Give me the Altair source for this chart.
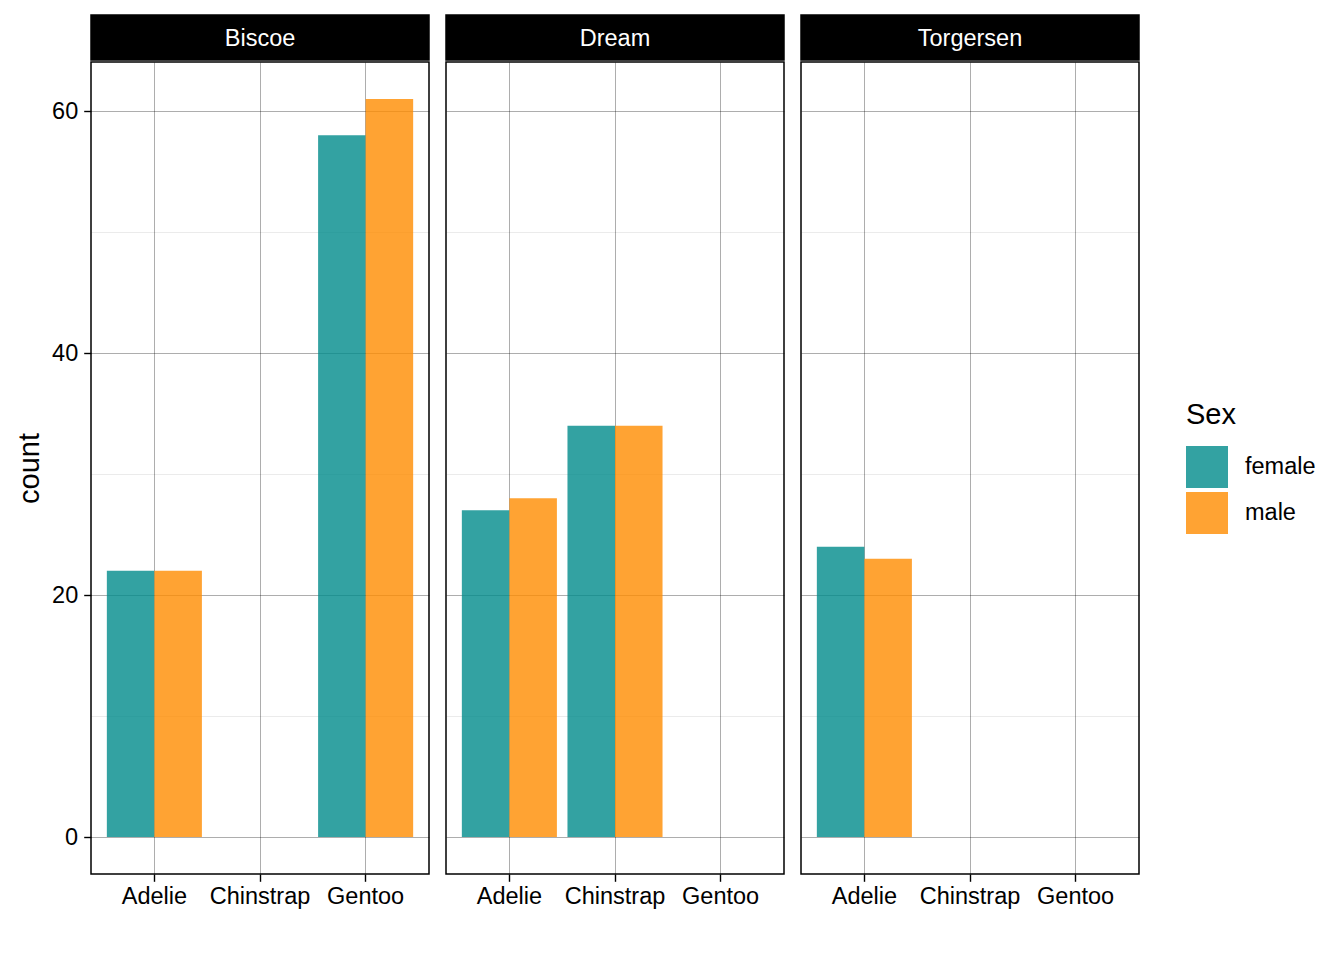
import altair as alt
import pandas as pd

# ---- data ----
islands = ["Biscoe", "Dream", "Torgersen"]
species_levels = ["Adelie", "Chinstrap", "Gentoo"]
sex_levels = ["female", "male"]

row_island = ["Biscoe", "Biscoe", "Biscoe", "Biscoe", "Dream", "Dream", "Dream", "Dream", "Torgersen", "Torgersen"]
row_species = ["Adelie", "Adelie", "Gentoo", "Gentoo", "Adelie", "Adelie", "Chinstrap", "Chinstrap", "Adelie", "Adelie"]
row_sex = ["female", "male", "female", "male", "female", "male", "female", "male", "female", "male"]
row_count = [22, 22, 58, 61, 27, 28, 34, 34, 24, 23]

y_ticks = [0, 10, 20, 30, 40, 50, 60]

df = pd.DataFrame({"island": row_island, "species": row_species, "sex": row_sex, "count": row_count})

FONT = "Liberation Sans"
PW, PH, SH = 338, 812, 45

major = "datum.value % 20 === 0"


def panel(isl, first):
    sub = df[df["island"] == isl]
    if first:
        yaxis = alt.Axis(
            values=y_ticks,
            labelExpr="datum.value % 20 === 0 ? datum.label : ''",
            tickOpacity={"condition": {"test": major, "value": 1}, "value": 0},
            gridOpacity={"condition": {"test": major, "value": 0.32}, "value": 0.08},
            gridColor="black",
            gridWidth=1,
            title="count",
            titleFontSize=29,
            titleFontWeight="normal",
            titleColor="black",
            titlePadding=7,
            labelFontSize=23.5,
            labelColor="black",
            labelPadding=6,
            tickSize=7.3,
            tickColor="black",
            tickWidth=1.4,
            domain=False,
        )
    else:
        yaxis = alt.Axis(
            values=y_ticks,
            labels=False,
            ticks=False,
            domain=False,
            title=None,
            gridOpacity={"condition": {"test": major, "value": 0.32}, "value": 0.08},
            gridColor="black",
            gridWidth=1,
        )
    xaxis = alt.Axis(
        title=None,
        grid=True,
        gridColor="black",
        gridOpacity=0.32,
        gridWidth=1,
        bandPosition=0.5,
        labelFontSize=23.5,
        labelColor="black",
        labelPadding=3,
        labelAngle=0,
        tickSize=7.3,
        tickColor="black",
        tickWidth=1.4,
        domain=False,
    )
    bars = alt.Chart(sub).mark_bar(opacity=0.8).encode(
        x=alt.X("species:N", scale=alt.Scale(domain=species_levels, paddingInner=0.1, paddingOuter=0.15), axis=xaxis),
        xOffset=alt.XOffset("sex:N", scale=alt.Scale(domain=sex_levels, paddingInner=0, paddingOuter=0)),
        y=alt.Y("count:Q", scale=alt.Scale(domain=[-3.05, 64.05], nice=False, zero=False), axis=yaxis),
        color=alt.Color(
            "sex:N",
            scale=alt.Scale(domain=sex_levels, range=["#008B8B", "#FF8C00"]),
            legend=alt.Legend(
                title="Sex",
                orient="none",
                legendX=1095,
                legendY=386,
                titleFontSize=29,
                titleFontWeight="normal",
                titleColor="black",
                titlePadding=16,
                labelFontSize=23.5,
                labelColor="black",
                labelOffset=17,
                symbolType="square",
                symbolSize=1764,
                symbolStrokeWidth=0,
                symbolOpacity=0.8,
                rowPadding=4,
            ),
        ),
    ).properties(width=PW, height=PH)

    strip_df = pd.DataFrame({"island": [isl]})
    strip_bg = alt.Chart(strip_df).mark_rect(color="black").encode(
        x=alt.value(0), x2=alt.value(PW), y=alt.value(0), y2=alt.value(SH)
    )
    strip_txt = alt.Chart(strip_df).mark_text(color="white", fontSize=23.5, font=FONT, baseline="middle").encode(
        text="island:N", x=alt.value(PW / 2), y=alt.value(SH / 2 + 1)
    )
    strip = alt.layer(strip_bg, strip_txt).properties(width=PW, height=SH)
    return alt.vconcat(strip, bars, spacing=0)


chart = alt.hconcat(
    *[panel(isl, i == 0) for i, isl in enumerate(islands)], spacing=15
).properties(
    padding={"left": 6, "top": 6, "right": 5, "bottom": 5}
).configure(font=FONT).configure_view(stroke="black", strokeWidth=1.5).configure_concat(spacing=15)

chart.save("out.html", embed_options={"renderer": "svg", "actions": False})
